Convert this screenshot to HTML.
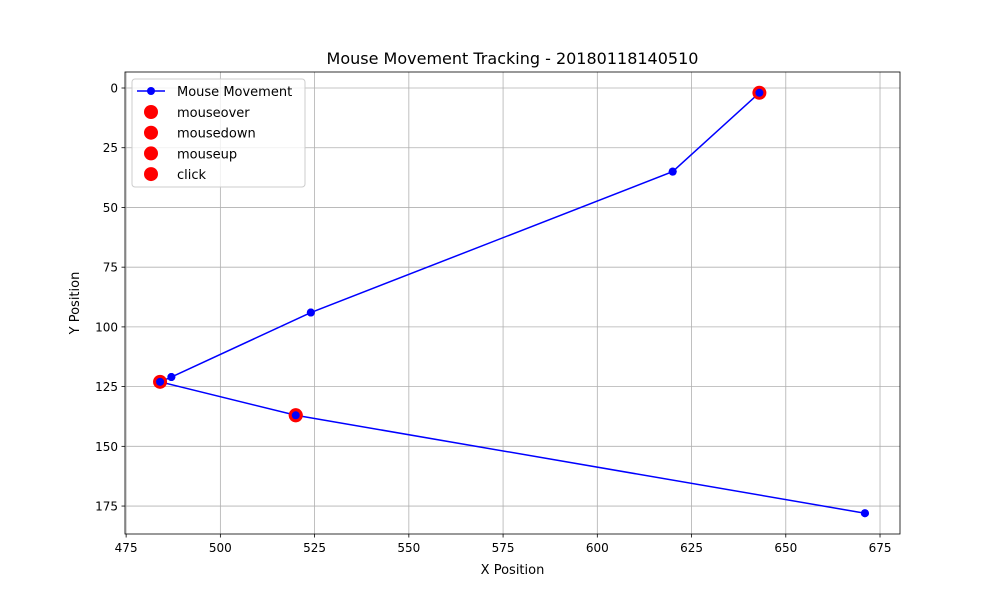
<!DOCTYPE html>
<html><head><meta charset="utf-8"><style>
body{margin:0;background:#fff;font-family:"Liberation Sans","DejaVu Sans",sans-serif;}
</style></head><body>
<svg id="c" width="1000" height="600" xmlns="http://www.w3.org/2000/svg" font-family="DejaVu Sans, Liberation Sans, sans-serif"></svg>
<script>
const pathX = [671, 520, 484, 487, 524, 620, 643];
const pathY = [178, 137, 123, 121, 94, 35, 2];
const eventNames = ['mouseover', 'mousedown', 'mouseup', 'click'];
const eventX = [643, 484, 520, 520];
const eventY = [2, 123, 137, 137];
const xTicks = [475, 500, 525, 550, 575, 600, 625, 650, 675];
const yTicks = [0, 25, 50, 75, 100, 125, 150, 175];

const L=125,R=900,T=72,B=534;
const xMin=474.7,xMax=680.3,yMin=-6.7,yMax=186.7;
const sx=v=>L+(v-xMin)/(xMax-xMin)*(R-L);
const sy=v=>T+(v-yMin)/(yMax-yMin)*(B-T);
const svg=document.getElementById('c');
const NS='http://www.w3.org/2000/svg';
function mk(t,a,p){const e=document.createElementNS(NS,t);for(const k in a)e.setAttribute(k,a[k]);(p||svg).appendChild(e);return e;}

let t=mk('text',{x:512.5,y:64,'text-anchor':'middle','font-size':16});t.textContent='Mouse Movement Tracking - 20180118140510';



const grid=mk('g',{});


xTicks.forEach(v=>{const x=sx(v);
 mk('line',{x1:x,x2:x,y1:T,y2:B,stroke:'#b0b0b0','stroke-width':0.8},grid);
 mk('line',{x1:x,x2:x,y1:B,y2:B+3.5,stroke:'#000','stroke-width':0.8});
 const tx=mk('text',{x:x,y:B+18,'text-anchor':'middle','font-size':12});tx.textContent=v;
 
 
});
yTicks.forEach(v=>{const y=sy(v);
 mk('line',{x1:L,x2:R,y1:y,y2:y,stroke:'#b0b0b0','stroke-width':0.8},grid);
 mk('line',{x1:L-3.5,x2:L,y1:y,y2:y,stroke:'#000','stroke-width':0.8});
 const tx=mk('text',{x:L-7,y:y+4.5,'text-anchor':'end','font-size':12});tx.textContent=v;
 
 
});
const frame=mk('rect',{x:L,y:T,width:R-L,height:B-T,fill:'none',stroke:'#000','stroke-width':0.8});



const line=mk('polyline',{points:pathX.map((x,i)=>sx(x)+','+sy(pathY[i])).join(' '),fill:'none',stroke:'#0000ff','stroke-width':1.5});


pathX.forEach((x,i)=>{const c=mk('circle',{cx:sx(x),cy:sy(pathY[i]),r:4,fill:'#0000ff'});
 
 });
eventX.forEach((x,i)=>{const c=mk('circle',{cx:sx(x),cy:sy(eventY[i]),r:7,fill:'#ff0000'});
 
 });
// re-draw blue points on top where overlapped
pathX.forEach((x,i)=>{const c=mk('circle',{cx:sx(x),cy:sy(pathY[i]),r:4,fill:'#0000ff'});
 
 });

let xl=mk('text',{x:512.5,y:574,'text-anchor':'middle','font-size':13});xl.textContent='X Position';


let yl=mk('text',{x:79,y:303,'text-anchor':'middle','font-size':13,transform:'rotate(-90 79 303)'});yl.textContent='Y Position';



const lg=mk('g',{});


mk('rect',{x:132,y:79,width:173,height:108,rx:3,fill:'#fff','fill-opacity':0.8,stroke:'#ccc'},lg);
mk('line',{x1:137,x2:165,y1:91,y2:91,stroke:'#0000ff','stroke-width':1.5},lg);
mk('circle',{cx:151,cy:91,r:4,fill:'#0000ff'},lg);
let lt=mk('text',{x:177,y:96,'font-size':13},lg);lt.textContent='Mouse Movement';


eventNames.forEach((n,i)=>{const y=112+i*20.7;
 mk('circle',{cx:151,cy:y,r:7,fill:'#ff0000'},lg);
 const tx=mk('text',{x:177,y:y+5,'font-size':13},lg);tx.textContent=n;
 
 
});
</script>
</body></html>
